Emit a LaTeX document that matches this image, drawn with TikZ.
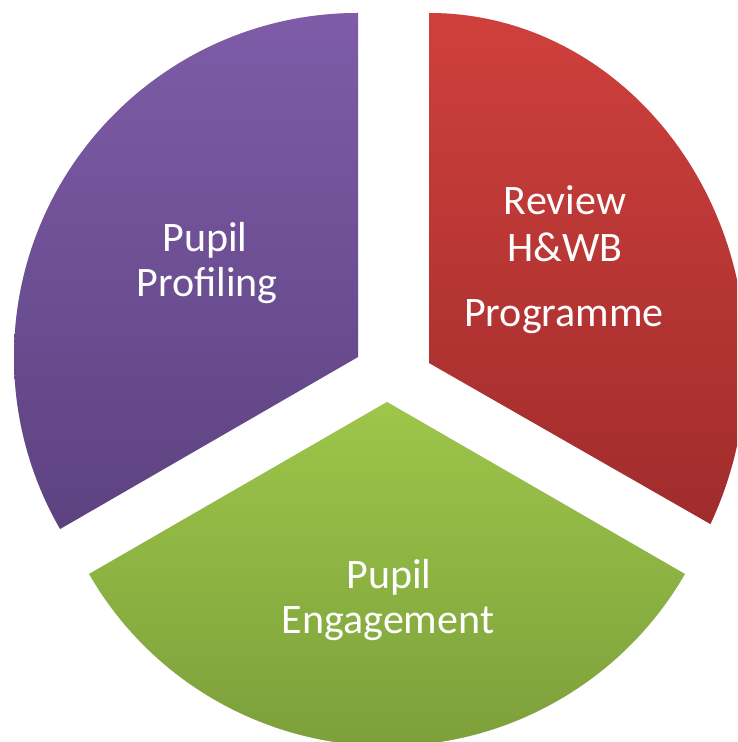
\documentclass[tikz,border=0pt]{standalone}
\usepackage{fontspec}
\setmainfont{Carlito}
\definecolor{redtop}{RGB}{207,64,60}
\definecolor{redbot}{RGB}{160,44,44}
\definecolor{purtop}{RGB}{126,92,168}
\definecolor{purbot}{RGB}{93,66,128}
\definecolor{grntop}{RGB}{157,198,74}
\definecolor{grnbot}{RGB}{120,154,56}
\tikzset{
  lbl/.style={text=white, font=\fontsize{42}{49}\selectfont, anchor=base, inner sep=0pt},
  shadowA/.style={fill=black, fill opacity=0.07},
  shadowB/.style={fill=black, fill opacity=0.10}
}
\begin{document}
\begin{tikzpicture}[x=1pt,y=1pt]
\useasboundingbox (0,0) rectangle (737,742);
\coordinate (P) at (358,385);
\coordinate (R) at (429,379);
\coordinate (G) at (387,340);
\begin{scope}
\clip (0,0) rectangle (737,742);
% shadows
\foreach \d/\s in {2.6/shadowA,1.3/shadowB}{
  \begin{scope}[shift={(\d,-\d)}]
    \fill[\s] (P) -- ++(0,344) arc[start angle=90,end angle=210,radius=344] -- cycle;
    \fill[\s] (R) -- ++(0,350) arc[start angle=90,end angle=-27.4,x radius=317,y radius=350] -- cycle;
    \fill[\s] (G) -- ++(210:344) arc[start angle=210,end angle=330,radius=344] -- cycle;
  \end{scope}
}
% sectors
\shade[top color=purtop, bottom color=purbot]
  (P) -- ++(0,344) arc[start angle=90,end angle=210,radius=344] -- cycle;
\shade[top color=redtop, bottom color=redbot]
  (R) -- ++(0,350) arc[start angle=90,end angle=-27.4,x radius=317,y radius=350] -- cycle;
\shade[top color=grntop, bottom color=grnbot]
  (G) -- ++(210:344) arc[start angle=210,end angle=330,radius=344] -- cycle;
\end{scope}
% labels
\node[lbl] (p1) at (205,490) {Pupil};
\node[lbl] (p2) at (207,445) {Profiling};
\node[lbl] (r1) at (565,527) {Review};
\node[lbl] (r2) at (565,480) {H\&WB};
\node[lbl] (r3) at (564,415) {Programme};
\node[lbl] (g1) at (389,153) {Pupil};
\node[lbl] (g2) at (388,108) {Engagement};
\end{tikzpicture}
\end{document}
